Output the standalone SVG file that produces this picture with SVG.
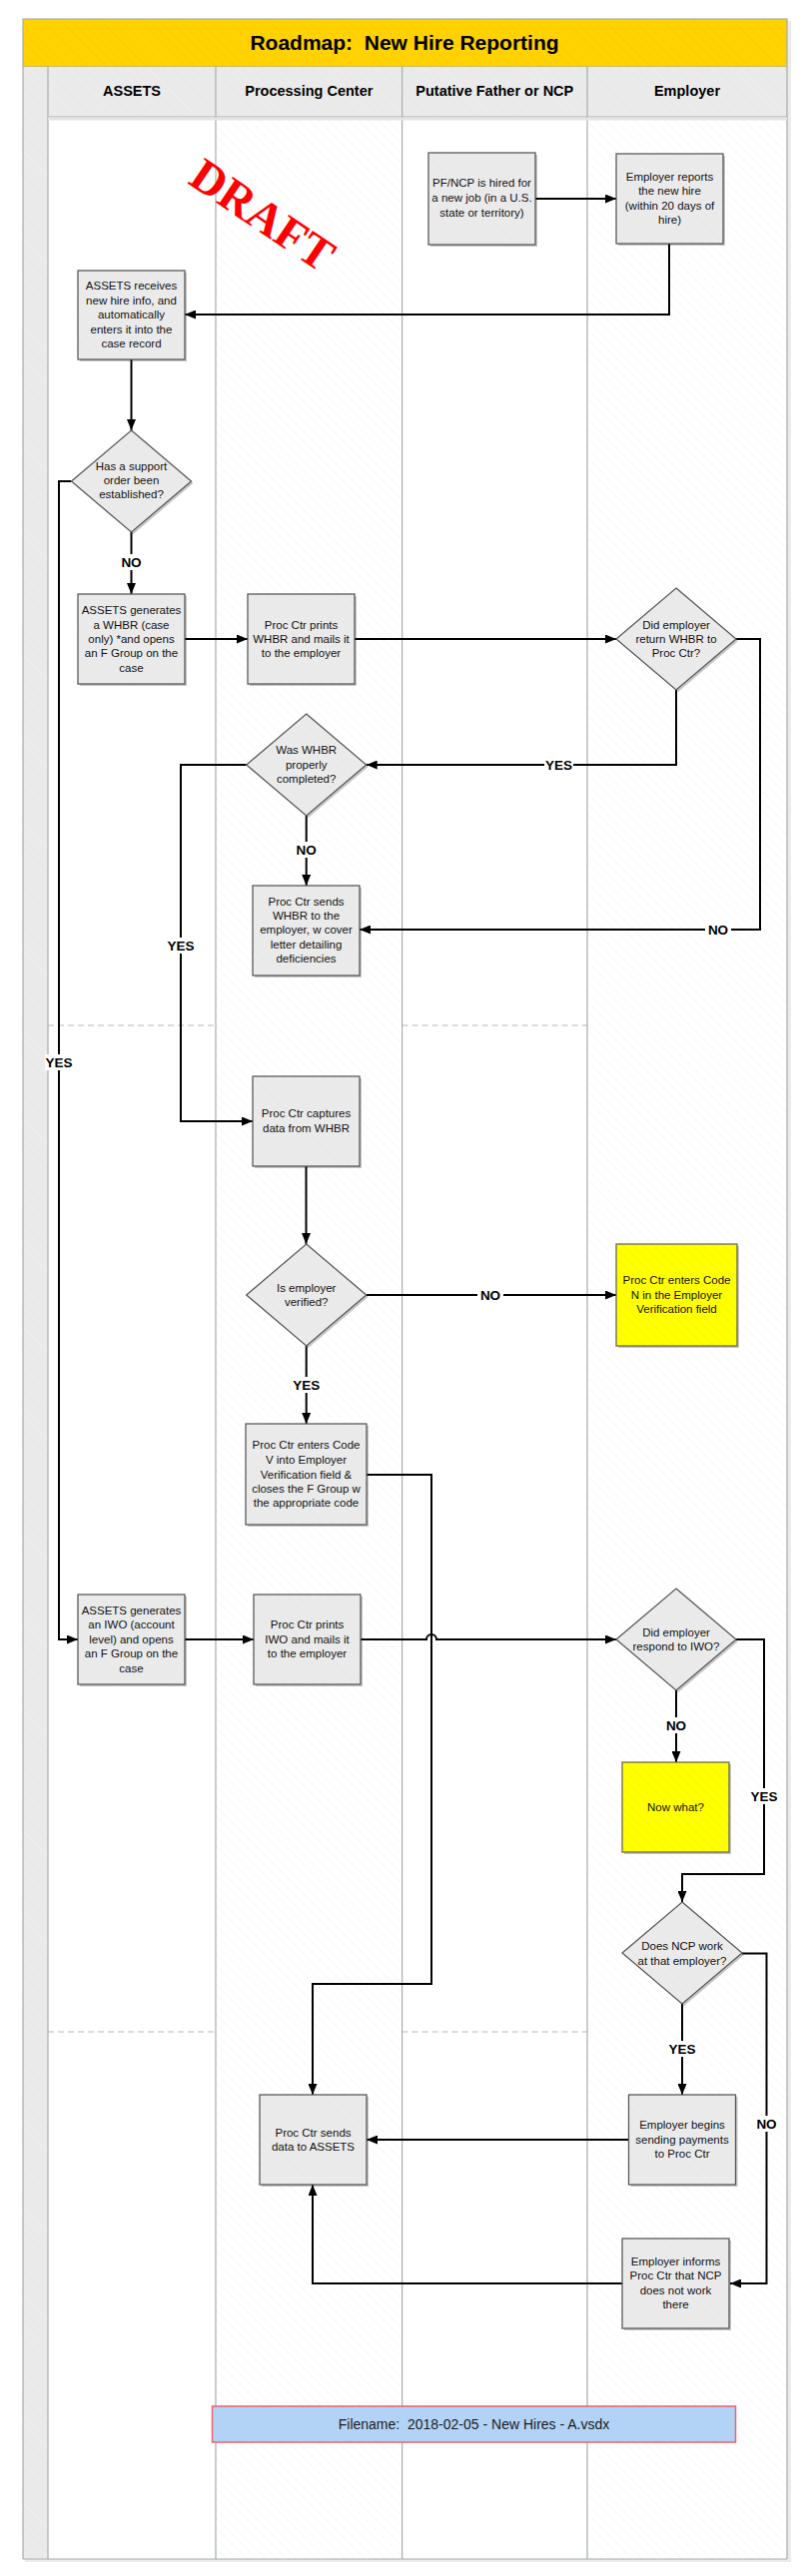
<svg xmlns="http://www.w3.org/2000/svg" width="810" height="2580" viewBox="0 0 810 2580">
<style>
.box{fill:url(#hBox);stroke:#5A5A5A;stroke-width:1.3}
.ybox{fill:url(#hYel);stroke:#6A6A50;stroke-width:1.3}
.sh{fill:#000;opacity:.22}
.t{font-family:"Liberation Sans",Arial,sans-serif;font-size:11.5px;fill:#111111;text-anchor:middle}
.lbl{font-family:"Liberation Sans",Arial,sans-serif;font-size:13.5px;font-weight:bold;fill:#000;text-anchor:middle}
.lh{font-family:"Liberation Sans",Arial,sans-serif;font-size:14.5px;font-weight:bold;fill:#000;text-anchor:middle}
.con{fill:none;stroke:#000;stroke-width:2}
.arr{marker-end:url(#ah)}
.lane{stroke:#A5AEAC;stroke-width:1.2}
.dash{stroke:#B8B8B8;stroke-width:1;stroke-dasharray:6 4}
.lb{fill:#FFFFFF}
</style>
<defs>
<pattern id="hWhite" patternUnits="userSpaceOnUse" width="7" height="7" patternTransform="rotate(-45)">
<rect width="7" height="7" fill="#FFFFFF"/><line x1="0" y1="0" x2="0" y2="7" stroke="#F4F4F4" stroke-width="1"/></pattern>
<pattern id="hGray" patternUnits="userSpaceOnUse" width="7" height="7" patternTransform="rotate(-45)">
<rect width="7" height="7" fill="#EAEAEA"/><line x1="0" y1="0" x2="0" y2="7" stroke="#F1F1F1" stroke-width="1"/></pattern>
<pattern id="hBox" patternUnits="userSpaceOnUse" width="7" height="7" patternTransform="rotate(-45)">
<rect width="7" height="7" fill="#EAEAEA"/><line x1="0" y1="0" x2="0" y2="7" stroke="#EFEFEF" stroke-width="1"/></pattern>
<pattern id="hYel" patternUnits="userSpaceOnUse" width="7" height="7" patternTransform="rotate(-45)">
<rect width="7" height="7" fill="#FFFF00"/><line x1="0" y1="0" x2="0" y2="7" stroke="#F4F400" stroke-width="1"/></pattern>
<pattern id="hGold" patternUnits="userSpaceOnUse" width="7" height="7" patternTransform="rotate(-45)">
<rect width="7" height="7" fill="#FFD200"/><line x1="0" y1="0" x2="0" y2="7" stroke="#F7CB00" stroke-width="1"/></pattern>
<marker id="ah" markerUnits="userSpaceOnUse" viewBox="0 0 11 9" refX="11" refY="4.5" markerWidth="11" markerHeight="9" orient="auto">
<path d="M0,0 L11,4.5 L0,9 Z" fill="#000"/></marker>
</defs>

<g id="frame">
<rect x="25" y="21" width="767" height="2545" fill="#000" opacity="0.08"/>
<rect x="23" y="19" width="765" height="48" fill="url(#hGold)" stroke="#A5AEAC" stroke-width="1.2"/>
<text x="405" y="50" xml:space="preserve" font-family="'Liberation Sans',Arial,sans-serif" font-size="21" font-weight="bold" text-anchor="middle" fill="#000">Roadmap:  New Hire Reporting</text>
<rect x="23" y="67" width="25" height="2496" fill="url(#hGray)"/>
<rect x="48" y="67" width="740" height="50" fill="url(#hGray)"/>
<rect x="48" y="117" width="168" height="2446" fill="#FFFFFF"/>
<rect x="216" y="117" width="186.6" height="2446" fill="url(#hWhite)"/>
<rect x="402.6" y="117" width="185.4" height="2446" fill="#FFFFFF"/>
<rect x="588" y="117" width="200" height="2446" fill="url(#hWhite)"/>
<line class="dash" x1="48" y1="1027" x2="216" y2="1027"/>
<line class="dash" x1="402.6" y1="1027" x2="588" y2="1027"/>
<line class="dash" x1="48" y1="2035" x2="216" y2="2035"/>
<line class="dash" x1="402.6" y1="2035" x2="588" y2="2035"/>
<line class="lane" x1="23" y1="67" x2="23" y2="2563"/>
<line class="lane" x1="48" y1="67" x2="48" y2="2563"/>
<line class="lane" x1="216" y1="67" x2="216" y2="2563"/>
<line class="lane" x1="402.6" y1="67" x2="402.6" y2="2563"/>
<line class="lane" x1="588" y1="67" x2="588" y2="2563"/>
<line class="lane" x1="788" y1="67" x2="788" y2="2563"/>
<line class="lane" x1="48" y1="117" x2="788" y2="117"/>
<line class="lane" x1="23" y1="2563" x2="788" y2="2563"/>
<line stroke="#E4E4E4" stroke-width="3" x1="48" y1="119" x2="788" y2="119"/>
<text class="lh" x="132" y="96">ASSETS</text>
<text class="lh" x="309.3" y="96">Processing Center</text>
<text class="lh" x="495.3" y="96">Putative Father or NCP</text>
<text class="lh" x="688" y="96">Employer</text>
</g>

<g id="draft" transform="translate(263,215) rotate(34)">
<text x="0" y="16" font-family="'Liberation Serif','DejaVu Serif',serif" font-size="47" font-weight="bold" fill="#FF0000" text-anchor="middle">DRAFT</text>
</g>

<g id="connectors">
<path class="con arr" d="M536,199 H617"/>
<path class="con arr" d="M670,244 V315 H185"/>
<path class="con arr" d="M131.5,360 V431"/>
<path class="con arr" d="M131.5,533 V595"/>
<path class="con arr" d="M71.5,482 H59 V1642 H78"/>
<path class="con arr" d="M185,640 H248"/>
<path class="con arr" d="M355,640 H617"/>
<path class="con arr" d="M737,640 H761 V931 H360"/>
<path class="con arr" d="M677,691 V766 H366.7"/>
<path class="con arr" d="M306.7,817 V887"/>
<path class="con arr" d="M246.7,766 H181 V1123 H253"/>
<path class="con arr" d="M306.5,1168 V1246"/>
<path class="con arr" d="M366.7,1297 H617"/>
<path class="con arr" d="M306.7,1348 V1426"/>
<path class="con arr" d="M367,1477 H432 V1987 H313 V2098"/>
<path class="con arr" d="M185,1642 H254"/>
<path class="con arr" d="M361,1642 H427 A5,5 0 0 1 437,1642 H617"/>
<path class="con arr" d="M677,1693 V1765"/>
<path class="con arr" d="M737,1642 H765 V1877 H683 V1905"/>
<path class="con arr" d="M683,2007 V2098"/>
<path class="con arr" d="M743,1956.5 H767.5 V2287 H731"/>
<path class="con arr" d="M629.5,2143 H367"/>
<path class="con arr" d="M623,2287 H313 V2188"/>
<g id="labels">
<rect class="lb" x="119" y="555" width="25" height="16"/><text class="lbl" x="131.5" y="568">NO</text>
<rect class="lb" x="45" y="1056" width="28" height="16"/><text class="lbl" x="59" y="1069">YES</text>
<rect class="lb" x="545" y="758" width="29" height="16"/><text class="lbl" x="559.6" y="771">YES</text>
<rect class="lb" x="294" y="843" width="25" height="16"/><text class="lbl" x="306.7" y="856">NO</text>
<rect class="lb" x="706" y="923" width="26" height="16"/><text class="lbl" x="719" y="936">NO</text>
<rect class="lb" x="167" y="939" width="28" height="16"/><text class="lbl" x="181" y="952">YES</text>
<rect class="lb" x="478" y="1289" width="26" height="16"/><text class="lbl" x="491" y="1302">NO</text>
<rect class="lb" x="292" y="1379" width="29" height="16"/><text class="lbl" x="306.7" y="1392">YES</text>
<rect class="lb" x="664" y="1720" width="26" height="16"/><text class="lbl" x="677" y="1733">NO</text>
<rect class="lb" x="751" y="1791" width="29" height="16"/><text class="lbl" x="765" y="1804">YES</text>
<rect class="lb" x="669" y="2044" width="29" height="16"/><text class="lbl" x="683" y="2057">YES</text>
<rect class="lb" x="754" y="2119" width="27" height="16"/><text class="lbl" x="767.5" y="2132">NO</text>
</g>
</g>

<g id="n1"><rect class="sh" x="431" y="155" width="107" height="92"/><rect class="box" x="429" y="153" width="107" height="92"/>
<text class="t" x="482.5" y="187">PF/NCP is hired for</text><text class="t" x="482.5" y="202">a new job (in a U.S.</text><text class="t" x="482.5" y="217">state or territory)</text></g>

<g id="n2"><rect class="sh" x="619" y="156" width="107" height="90"/><rect class="box" x="617" y="154" width="107" height="90"/>
<text class="t" x="670.5" y="181">Employer reports</text><text class="t" x="670.5" y="195">the new hire</text><text class="t" x="670.5" y="210">(within 20 days of</text><text class="t" x="670.5" y="224">hire)</text></g>

<g id="n3"><rect class="sh" x="80" y="273" width="107" height="89"/><rect class="box" x="78" y="271" width="107" height="89"/>
<text class="t" x="131.5" y="290">ASSETS receives</text><text class="t" x="131.5" y="305">new hire info, and</text><text class="t" x="131.5" y="319">automatically</text><text class="t" x="131.5" y="334">enters it into the</text><text class="t" x="131.5" y="348">case record</text></g>

<g id="d1"><path class="sh" d="M133.5,433 L193.5,484 L133.5,535 L73.5,484 Z"/><path class="box" d="M131.5,431 L191.5,482 L131.5,533 L71.5,482 Z"/>
<text class="t" x="131.5" y="471">Has a support</text><text class="t" x="131.5" y="485">order been</text><text class="t" x="131.5" y="499">established?</text></g>

<g id="n4"><rect class="sh" x="80" y="597" width="107" height="90"/><rect class="box" x="78" y="595" width="107" height="90"/>
<text class="t" x="131.5" y="615">ASSETS generates</text><text class="t" x="131.5" y="630">a WHBR (case</text><text class="t" x="131.5" y="644">only) *and opens</text><text class="t" x="131.5" y="658">an F Group on the</text><text class="t" x="131.5" y="673">case</text></g>

<g id="n5"><rect class="sh" x="250" y="597" width="107" height="90"/><rect class="box" x="248" y="595" width="107" height="90"/>
<text class="t" x="301.5" y="630">Proc Ctr prints</text><text class="t" x="301.5" y="644">WHBR and mails it</text><text class="t" x="301.5" y="658">to the employer</text></g>

<g id="d2"><path class="sh" d="M679,591 L739,642 L679,693 L619,642 Z"/><path class="box" d="M677,589 L737,640 L677,691 L617,640 Z"/>
<text class="t" x="677" y="630">Did employer</text><text class="t" x="677" y="644">return WHBR to</text><text class="t" x="677" y="658">Proc Ctr?</text></g>

<g id="d3"><path class="sh" d="M308.7,717 L368.7,768 L308.7,819 L248.7,768 Z"/><path class="box" d="M306.7,715 L366.7,766 L306.7,817 L246.7,766 Z"/>
<text class="t" x="306.7" y="755">Was WHBR</text><text class="t" x="306.7" y="770">properly</text><text class="t" x="306.7" y="784">completed?</text></g>

<g id="n7"><rect class="sh" x="255" y="889" width="107" height="90"/><rect class="box" x="253" y="887" width="107" height="90"/>
<text class="t" x="306.5" y="907">Proc Ctr sends</text><text class="t" x="306.5" y="921">WHBR to the</text><text class="t" x="306.5" y="935">employer, w cover</text><text class="t" x="306.5" y="950">letter detailing</text><text class="t" x="306.5" y="964">deficiencies</text></g>

<g id="n8"><rect class="sh" x="255" y="1080" width="107" height="90"/><rect class="box" x="253" y="1078" width="107" height="90"/>
<text class="t" x="306.5" y="1119">Proc Ctr captures</text><text class="t" x="306.5" y="1134">data from WHBR</text></g>

<g id="d4"><path class="sh" d="M308.7,1248 L368.7,1299 L308.7,1350 L248.7,1299 Z"/><path class="box" d="M306.7,1246 L366.7,1297 L306.7,1348 L246.7,1297 Z"/>
<text class="t" x="306.7" y="1294">Is employer</text><text class="t" x="306.7" y="1308">verified?</text></g>

<g id="n9"><rect class="sh" x="619" y="1248" width="121" height="102"/><rect class="ybox" x="617" y="1246" width="121" height="102"/>
<text class="t" x="677.5" y="1286">Proc Ctr enters Code</text><text class="t" x="677.5" y="1301">N in the Employer</text><text class="t" x="677.5" y="1315">Verification field</text></g>

<g id="n10"><rect class="sh" x="248" y="1428" width="121" height="101"/><rect class="box" x="246" y="1426" width="121" height="101"/>
<text class="t" x="306.5" y="1451">Proc Ctr enters Code</text><text class="t" x="306.5" y="1466">V into Employer</text><text class="t" x="306.5" y="1481">Verification field &amp;</text><text class="t" x="306.5" y="1495">closes the F Group w</text><text class="t" x="306.5" y="1509">the appropriate code</text></g>

<g id="n11"><rect class="sh" x="80" y="1599" width="107" height="90"/><rect class="box" x="78" y="1597" width="107" height="90"/>
<text class="t" x="131.5" y="1617">ASSETS generates</text><text class="t" x="131.5" y="1631">an IWO (account</text><text class="t" x="131.5" y="1646">level) and opens</text><text class="t" x="131.5" y="1660">an F Group on the</text><text class="t" x="131.5" y="1675">case</text></g>

<g id="n12"><rect class="sh" x="256" y="1599" width="107" height="90"/><rect class="box" x="254" y="1597" width="107" height="90"/>
<text class="t" x="307.5" y="1631">Proc Ctr prints</text><text class="t" x="307.5" y="1646">IWO and mails it</text><text class="t" x="307.5" y="1660">to the employer</text></g>

<g id="d5"><path class="sh" d="M679,1593 L739,1644 L679,1695 L619,1644 Z"/><path class="box" d="M677,1591 L737,1642 L677,1693 L617,1642 Z"/>
<text class="t" x="677" y="1639">Did employer</text><text class="t" x="677" y="1653">respond to IWO?</text></g>

<g id="n13"><rect class="sh" x="625" y="1767" width="107" height="90"/><rect class="ybox" x="623" y="1765" width="107" height="90"/>
<text class="t" x="676.5" y="1814">Now what?</text></g>

<g id="d6"><path class="sh" d="M685,1907 L745,1958 L685,2009 L625,1958 Z"/><path class="box" d="M683,1905 L743,1956 L683,2007 L623,1956 Z"/>
<text class="t" x="683" y="1953">Does NCP work</text><text class="t" x="683" y="1968">at that employer?</text></g>

<g id="n14"><rect class="sh" x="631.5" y="2100" width="107" height="90"/><rect class="box" x="629.5" y="2098" width="107" height="90"/>
<text class="t" x="683" y="2132">Employer begins</text><text class="t" x="683" y="2147">sending payments</text><text class="t" x="683" y="2161">to Proc Ctr</text></g>

<g id="n15"><rect class="sh" x="262" y="2100" width="107" height="90"/><rect class="box" x="260" y="2098" width="107" height="90"/>
<text class="t" x="313.5" y="2140">Proc Ctr sends</text><text class="t" x="313.5" y="2154">data to ASSETS</text></g>

<g id="n16"><rect class="sh" x="625" y="2244" width="107" height="90"/><rect class="box" x="623" y="2242" width="107" height="90"/>
<text class="t" x="676.5" y="2269">Employer informs</text><text class="t" x="676.5" y="2283">Proc Ctr that NCP</text><text class="t" x="676.5" y="2298">does not work</text><text class="t" x="676.5" y="2312">there</text></g>

<g id="filename"><rect x="212.5" y="2410" width="524" height="36" fill="#B2D3F6" stroke="#F0606A" stroke-width="1.5"/>
<text x="474.5" y="2433" xml:space="preserve" font-family="'Liberation Sans',Arial,sans-serif" font-size="14" fill="#1A1A1A" text-anchor="middle">Filename:  2018-02-05 - New Hires - A.vsdx</text></g>
</svg>
